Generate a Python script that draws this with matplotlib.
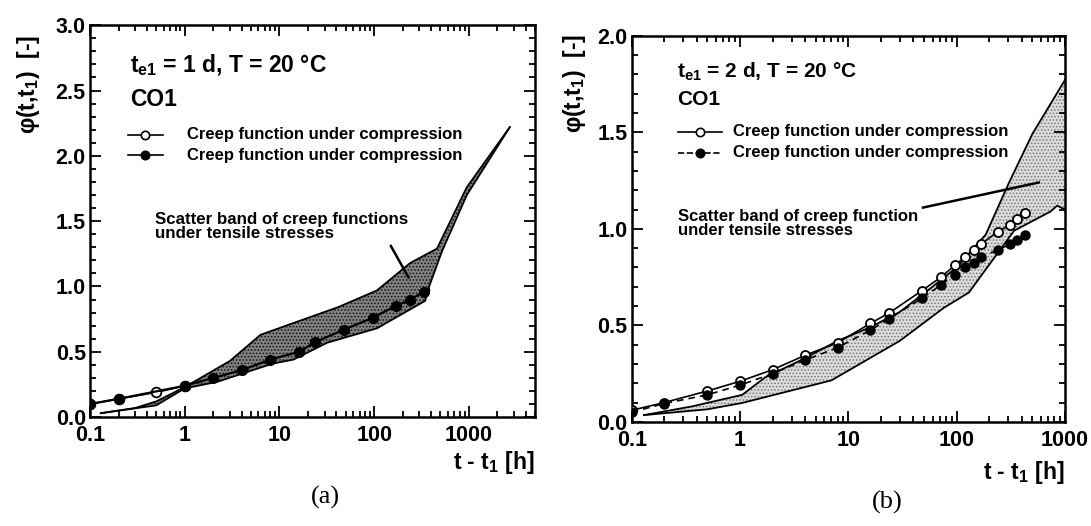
import numpy as np
import matplotlib.pyplot as plt
from matplotlib.ticker import (MultipleLocator, FixedLocator, FormatStrFormatter,
                               LogLocator, NullFormatter)

plt.rcParams['font.family'] = ['Liberation Sans', 'DejaVu Sans']
plt.rcParams['font.weight'] = 'bold'
plt.rcParams['mathtext.fontset'] = 'custom'
plt.rcParams['mathtext.rm'] = 'Liberation Sans:bold'
plt.rcParams['mathtext.it'] = 'Liberation Sans:bold:italic'
plt.rcParams['mathtext.bf'] = 'Liberation Sans:bold'
plt.rcParams['hatch.linewidth'] = 0.7

# ---- (a) t_e1 = 1 d ----
t_a_open = [0.1, 0.2, 0.5, 1, 2, 4, 8, 16, 24, 48, 96, 168, 240, 336]
phi_a_open = [0.10, 0.14, 0.19, 0.24, 0.31, 0.37, 0.45, 0.52, 0.58, 0.68, 0.78, 0.87, 0.92, 0.97]
t_a_full = [0.1, 0.2, 1, 2, 4, 8, 16, 24, 48, 96, 168, 240, 336]
phi_a_full = [0.10, 0.14, 0.24, 0.30, 0.36, 0.44, 0.50, 0.575, 0.67, 0.76, 0.85, 0.90, 0.96]

band_a_up_t = [0.13, 0.3, 0.5, 1, 3, 6.3, 14, 41, 107, 240, 460, 950, 2700]
band_a_up = [0.03, 0.07, 0.12, 0.23, 0.43, 0.63, 0.72, 0.84, 0.97, 1.18, 1.29, 1.76, 2.22]
band_a_lo_t = [0.13, 0.5, 1, 2.2, 8.5, 14, 32, 107, 345, 380, 520, 950, 2700]
band_a_lo = [0.03, 0.09, 0.22, 0.27, 0.41, 0.44, 0.57, 0.68, 0.89, 1.0, 1.27, 1.70, 2.22]

# ---- (b) t_e1 = 2 d ----
t_b = [0.1, 0.2, 0.5, 1, 2, 4, 8, 16, 24, 48, 72, 96, 120, 144, 168, 240, 312, 360, 432]
phi_b_open = [0.06, 0.10, 0.16, 0.21, 0.27, 0.345, 0.41, 0.51, 0.565, 0.68, 0.75, 0.81,
              0.855, 0.89, 0.92, 0.985, 1.02, 1.05, 1.08]
phi_b_full = [0.05, 0.095, 0.14, 0.19, 0.25, 0.32, 0.385, 0.475, 0.535, 0.64, 0.71, 0.76,
              0.80, 0.825, 0.855, 0.89, 0.92, 0.94, 0.97]

band_b_up_t = [0.13, 0.36, 1.05, 1.7, 4, 8, 16, 30, 60, 100, 186, 300, 500, 1000]
band_b_up = [0.035, 0.08, 0.14, 0.23, 0.33, 0.42, 0.49, 0.57, 0.70, 0.80, 0.97, 1.23, 1.49, 1.77]
band_b_lo_t = [0.13, 0.5, 1.05, 7, 30, 76, 130, 340, 740, 850, 1000]
band_b_lo = [0.035, 0.065, 0.098, 0.215, 0.42, 0.59, 0.67, 0.99, 1.09, 1.12, 1.10]

xticks = [0.1, 1, 10, 100, 1000]
xticklabels = ['0.1', '1', '10', '100', '1000']
label_txt = 'Creep function under compression'


def style_axes(ax, xmax, ymax):
    ax.set_xscale('log')
    ax.set_xlim(0.1, xmax)
    ax.set_ylim(0, ymax)
    ax.xaxis.set_major_locator(FixedLocator(xticks))
    ax.set_xticklabels(xticklabels)
    ax.xaxis.set_minor_locator(LogLocator(base=10, subs=np.arange(2, 10)))
    ax.xaxis.set_minor_formatter(NullFormatter())
    ax.yaxis.set_major_locator(MultipleLocator(0.5))
    ax.yaxis.set_minor_locator(MultipleLocator(0.1))
    ax.yaxis.set_major_formatter(FormatStrFormatter('%.1f'))
    ax.tick_params(which='both', direction='in', top=True, right=True, width=1.3)
    ax.tick_params(which='major', length=8, labelsize=15.5)
    ax.tick_params(axis='x', which='major', pad=6)
    ax.tick_params(axis='y', which='major', pad=3)
    ax.tick_params(which='minor', length=4)
    for s in ax.spines.values():
        s.set_linewidth(1.8)


def band(ax, up_t, up, lo_t, lo, face, hatch_col, z):
    xs = list(up_t) + list(lo_t)[::-1]
    ys = list(up) + list(lo)[::-1]
    ax.fill(xs, ys, facecolor=face, edgecolor=hatch_col, hatch='.....',
            linewidth=0, zorder=z)
    ax.plot(up_t, up, color='black', lw=1.3, zorder=z)
    ax.plot(lo_t, lo, color='black', lw=1.3, zorder=z)


def legend_row(ax, y, x0, x1, xm, xt, filled, ls):
    ax.plot([x0, x1], [y, y], color='black', lw=1.2, ls=ls, transform=ax.transAxes)
    ax.plot([xm], [y], 'o', ms=6, mfc='black' if filled else 'white', mec='black',
            mew=1.2, transform=ax.transAxes)
    ax.text(xt, y, label_txt, transform=ax.transAxes, va='center', fontsize=12)


fig = plt.figure(figsize=(10.91, 5.26), dpi=100)

# panel (a)
ax1 = fig.add_axes([0.0825, 0.207, 0.408, 0.745])
style_axes(ax1, 5000, 3.0)
ax1.plot(t_a_open, phi_a_open, '-o', color='black', lw=1.3, ms=7, mfc='white',
         mec='black', mew=1.3, zorder=2)
band(ax1, band_a_up_t, band_a_up, band_a_lo_t, band_a_lo, '#808080', '#111111', 3)
ax1.plot(t_a_full, phi_a_full, '-o', color='black', lw=1.6, ms=7, mfc='black',
         mec='black', zorder=4)
ax1.plot([150, 230], [1.31, 1.07], color='black', lw=1.8, zorder=5)
ax1.text(0.09, 0.898, r't$_\mathbf{e1}$ = 1 d, T = 20 °C', transform=ax1.transAxes,
         va='center', fontsize=16.5)
ax1.text(0.09, 0.81, 'CO1', transform=ax1.transAxes, va='center', fontsize=16.5)
legend_row(ax1, 0.720, 0.085, 0.164, 0.124, 0.218, False, '-')
legend_row(ax1, 0.668, 0.085, 0.164, 0.124, 0.218, True, '-')
ax1.text(0.146, 0.486, 'Scatter band of creep functions\nunder tensile stresses',
         transform=ax1.transAxes, va='center', fontsize=12.2, linespacing=0.95)

# panel (b)
ax2 = fig.add_axes([0.579, 0.198, 0.397, 0.734])
style_axes(ax2, 1000, 2.0)
band(ax2, band_b_up_t, band_b_up, band_b_lo_t, band_b_lo, '#dcdcdc', '#777777', 1)
ax2.plot(t_b, phi_b_open, '-o', color='black', lw=1.2, ms=6.5, mfc='white',
         mec='black', mew=1.3, zorder=3)
ax2.plot(t_b, phi_b_full, '--o', color='black', lw=1.2, ms=6.5, mfc='black',
         mec='black', zorder=4, dashes=(4, 3))
ax2.plot([49, 575], [1.11, 1.24], color='black', lw=1.8, zorder=5)
ax2.text(0.104, 0.907, r't$_\mathbf{e1}$ = 2 d, T = 20 °C', transform=ax2.transAxes,
         va='center', fontsize=15)
ax2.text(0.104, 0.834, 'CO1', transform=ax2.transAxes, va='center', fontsize=15)
legend_row(ax2, 0.751, 0.106, 0.208, 0.157, 0.233, False, '-')
legend_row(ax2, 0.697, 0.106, 0.208, 0.157, 0.233, True, '--')
ax2.text(0.106, 0.514, 'Scatter band of creep function\nunder tensile stresses',
         transform=ax2.transAxes, va='center', fontsize=12, linespacing=0.95)

# axis labels and panel captions
ylab = 'φ(t,t$_\\mathbf{1}$)  [-]'
fig.text(28 / 1091, 1 - 84 / 526, ylab, rotation=90, ha='center', va='center', fontsize=16.5)
fig.text(574 / 1091, 1 - 83 / 526, ylab, rotation=90, ha='center', va='center', fontsize=16.5)
fig.text(535 / 1091, 1 - 462 / 526, 't - t$_\\mathbf{1}$ [h]', ha='right', va='center',
         fontsize=16.5)
fig.text(1065 / 1091, 1 - 473 / 526, 't - t$_\\mathbf{1}$ [h]', ha='right', va='center',
         fontsize=16.5)
fig.text(325 / 1091, 1 - 497 / 526, '(a)', ha='center', va='center', fontsize=19,
         family='Liberation Serif', weight='normal')
fig.text(887 / 1091, 1 - 502 / 526, '(b)', ha='center', va='center', fontsize=19,
         family='Liberation Serif', weight='normal')

fig.savefig('out.png', dpi=100)
